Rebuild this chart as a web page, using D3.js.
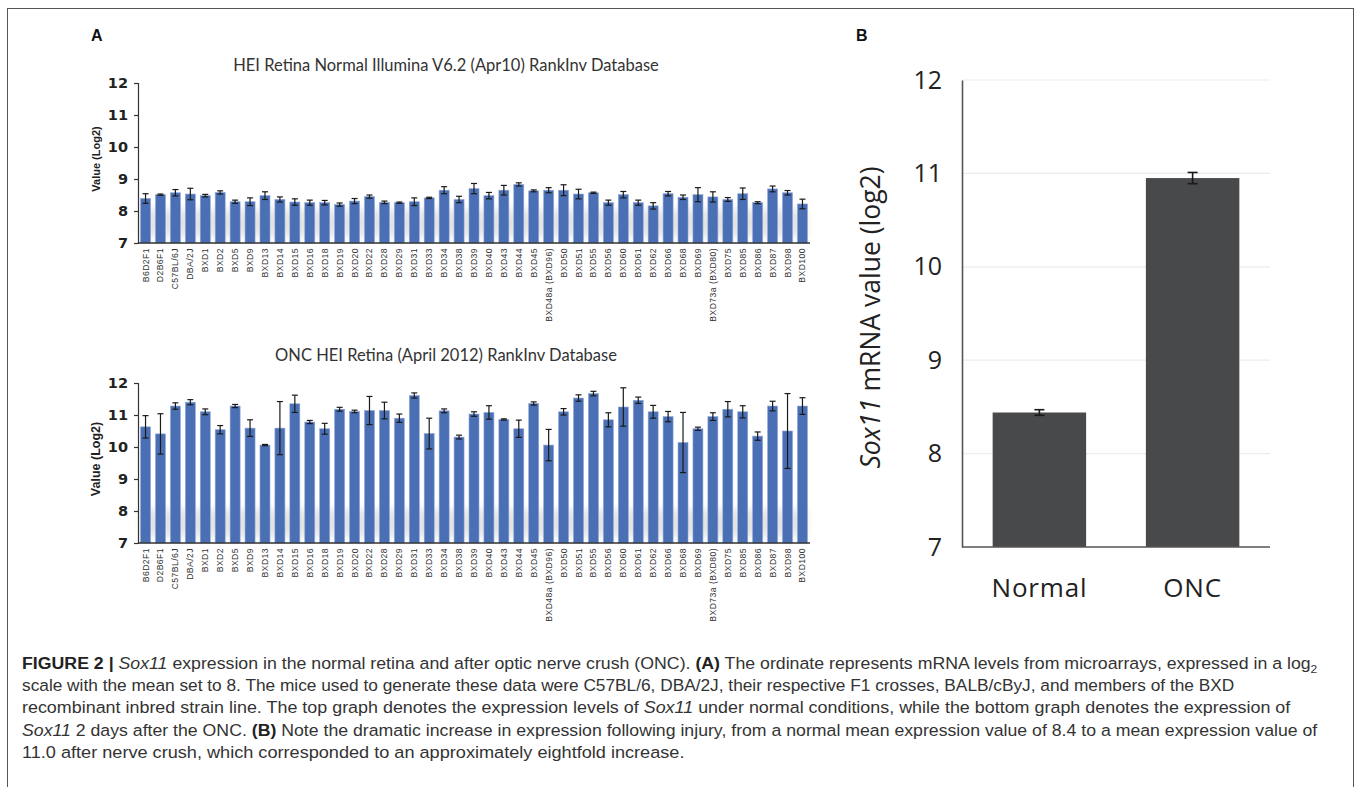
<!DOCTYPE html>
<html>
<head>
<meta charset="utf-8">
<script src="https://cdn.jsdelivr.net/npm/d3@7/dist/d3.min.js"></script>
<style>
  html, body { margin: 0; padding: 0; background: #fff; }
  svg { display: block; }
</style>
</head>
<body>
<svg id="fig" width="1358" height="787"></svg>
<script>
// ---- data ----
const strains = ["B6D2F1","D2B6F1","C57BL/6J","DBA/2J","BXD1","BXD2","BXD5","BXD9","BXD13","BXD14",
  "BXD15","BXD16","BXD18","BXD19","BXD20","BXD22","BXD28","BXD29","BXD31","BXD33",
  "BXD34","BXD38","BXD39","BXD40","BXD43","BXD44","BXD45","BXD48a (BXD96)","BXD50","BXD51",
  "BXD55","BXD56","BXD60","BXD61","BXD62","BXD66","BXD68","BXD69","BXD73a (BXD80)","BXD75",
  "BXD85","BXD86","BXD87","BXD98","BXD100"];

const normalMean = [8.39,8.51,8.57,8.53,8.48,8.58,8.29,8.29,8.48,8.36,
  8.28,8.26,8.26,8.20,8.31,8.45,8.27,8.26,8.29,8.41,
  8.65,8.36,8.70,8.48,8.65,8.83,8.63,8.65,8.65,8.53,
  8.57,8.26,8.51,8.26,8.16,8.54,8.43,8.51,8.44,8.36,
  8.54,8.26,8.69,8.57,8.22];
const normalErr = [0.15,0.02,0.10,0.18,0.04,0.05,0.05,0.12,0.12,0.08,
  0.10,0.08,0.07,0.05,0.08,0.05,0.04,0.02,0.12,0.02,
  0.11,0.10,0.16,0.10,0.15,0.05,0.03,0.08,0.17,0.15,
  0.02,0.08,0.10,0.08,0.10,0.07,0.07,0.22,0.16,0.06,
  0.18,0.03,0.09,0.07,0.15];

const oncMean = [10.63,10.41,11.28,11.40,11.10,10.54,11.28,10.59,10.06,10.59,
  11.35,10.78,10.57,11.18,11.11,11.14,11.14,10.90,11.61,10.42,
  11.13,10.31,11.03,11.08,10.86,10.57,11.36,10.06,11.10,11.53,
  11.67,10.85,11.25,11.46,11.10,10.95,10.14,10.57,10.95,11.18,
  11.10,10.34,11.28,10.50,11.28];
const oncErr = [0.35,0.63,0.10,0.08,0.09,0.13,0.05,0.26,0.02,0.83,
  0.27,0.05,0.17,0.06,0.04,0.44,0.26,0.13,0.08,0.48,
  0.06,0.06,0.07,0.21,0.02,0.27,0.05,0.49,0.10,0.10,
  0.07,0.22,0.60,0.10,0.20,0.16,0.94,0.05,0.12,0.24,
  0.19,0.13,0.15,1.17,0.26];

const yTicksA = [7, 8, 9, 10, 11, 12];

const groupsB = ["Normal", "ONC"];
const meanB = [8.44, 10.95];
const errB = [0.03, 0.06];
const yTicksB = [7, 8, 9, 10, 11, 12];

const titleTop = "HEI Retina Normal Illumina V6.2 (Apr10) RankInv Database";
const titleBottom = "ONC HEI Retina (April 2012) RankInv Database";

// ---- drawing ----
const svg = d3.select("#fig");

// outer frame of the figure
svg.append("rect")
  .attr("x", 7.5).attr("y", 8.5).attr("width", 1346).attr("height", 800)
  .attr("fill", "none").attr("stroke", "#555").attr("stroke-width", 1);

const defs = svg.append("defs");
defs.append("filter").attr("id", "haze").attr("x", "-10%").attr("y", "-50%")
  .attr("width", "120%").attr("height", "200%")
  .append("feGaussianBlur").attr("stdDeviation", 5);

// panel letters
svg.append("text").attr("x", 91).attr("y", 41).text("A")
  .attr("font-family", "Liberation Sans, Arial, sans-serif").attr("font-weight", "bold")
  .attr("font-size", 16).attr("fill", "#111");
svg.append("text").attr("x", 856).attr("y", 41).text("B")
  .attr("font-family", "Liberation Sans, Arial, sans-serif").attr("font-weight", "bold")
  .attr("font-size", 16).attr("fill", "#111");

function strainChart(opts) {
  const { top, bottom, left, right, means, errs, title, titleY, ytitleSize, labelY } = opts;
  const g = svg.append("g");
  const x = d3.scaleBand().domain(strains).range([left, right]).paddingInner(0.33).paddingOuter(0.17);
  const y = d3.scaleLinear().domain([7, 12]).range([bottom, top]);

  // soft grey shading near the base of the bars
  g.append("rect")
    .attr("x", left + 4).attr("width", right - left - 8)
    .attr("y", y(8.05)).attr("height", y(7.2) - y(8.05))
    .attr("fill", "#d2d2d2").attr("opacity", 0.6)
    .attr("filter", "url(#haze)");

  // bars
  g.selectAll("rect.bar").data(strains).enter().append("rect")
    .attr("class", "bar")
    .attr("x", d => x(d))
    .attr("width", x.bandwidth())
    .attr("y", (d, i) => y(means[i]))
    .attr("height", (d, i) => y(7) - y(means[i]))
    .attr("fill", "#4b6fb4")
    .attr("stroke", "#8fa8d8").attr("stroke-width", 0.6);

  // error bars
  const eb = g.selectAll("g.err").data(strains).enter().append("g").attr("class", "err");
  const cx = d => x(d) + x.bandwidth() / 2;
  eb.append("line")
    .attr("x1", cx).attr("x2", cx)
    .attr("y1", (d, i) => y(means[i] + errs[i]))
    .attr("y2", (d, i) => y(means[i] - errs[i]))
    .attr("stroke", "#1a1a1a").attr("stroke-width", 1.2);
  [1, -1].forEach(s => {
    eb.append("line")
      .attr("x1", d => cx(d) - 3).attr("x2", d => cx(d) + 3)
      .attr("y1", (d, i) => y(means[i] + s * errs[i]))
      .attr("y2", (d, i) => y(means[i] + s * errs[i]))
      .attr("stroke", "#1a1a1a").attr("stroke-width", 1.2);
  });

  // y axis
  const ya = g.append("g").attr("transform", `translate(${left},0)`)
    .call(d3.axisLeft(y).tickValues(yTicksA).tickSize(4).tickPadding(6).tickFormat(d3.format("d")));
  ya.select(".domain").attr("stroke", "#333").attr("stroke-width", 1.2);
  ya.selectAll(".tick line").attr("stroke", "#333").attr("stroke-width", 1.2);
  ya.selectAll(".tick text")
    .attr("font-family", "DejaVu Sans, sans-serif").attr("font-weight", "bold")
    .attr("font-size", 14.5).attr("fill", "#222");

  // x axis baseline
  g.append("line").attr("x1", left).attr("x2", right)
    .attr("y1", bottom).attr("y2", bottom)
    .attr("stroke", "#333").attr("stroke-width", 1.3);

  // strain labels
  g.selectAll("text.xl").data(strains).enter().append("text")
    .attr("class", "xl")
    .attr("transform", d => `translate(${cx(d) + 3},${labelY}) rotate(-90)`)
    .attr("text-anchor", "end")
    .attr("font-family", "Liberation Sans, Arial, sans-serif")
    .attr("font-size", 8.6).attr("letter-spacing", 0.45)
    .attr("fill", "#333")
    .text(d => d);

  // title
  g.append("text").attr("x", 446).attr("y", titleY).attr("text-anchor", "middle")
    .attr("font-family", "Lato, Open Sans, sans-serif").attr("font-size", 16.5)
    .attr("fill", "#333").text(title);

  // y title
  g.append("text")
    .attr("transform", `translate(100,${(top + bottom) / 2 - 4}) rotate(-90)`)
    .attr("text-anchor", "middle")
    .attr("font-family", "Liberation Sans, Arial, sans-serif").attr("font-weight", "bold")
    .attr("font-size", ytitleSize).attr("fill", "#222")
    .text("Value (Log2)");
}

strainChart({ top: 83, bottom: 243, left: 138, right: 810, means: normalMean, errs: normalErr,
  title: titleTop, titleY: 71, ytitleSize: 11, labelY: 248 });
strainChart({ top: 383, bottom: 543, left: 138, right: 810, means: oncMean, errs: oncErr,
  title: titleBottom, titleY: 361, ytitleSize: 12.5, labelY: 548 });

// ---- panel B ----
(function () {
  const left = 962, right = 1270, top = 80, bottom = 547;
  const g = svg.append("g");
  const x = d3.scaleBand().domain(groupsB).range([left, right]).paddingInner(0.39).paddingOuter(0.2);
  const y = d3.scaleLinear().domain([7, 12]).range([bottom, top]);

  g.selectAll("line.grid").data(yTicksB.filter(v => v > 7)).enter().append("line")
    .attr("x1", left).attr("x2", right)
    .attr("y1", d => y(d)).attr("y2", d => y(d))
    .attr("stroke", "#ececec").attr("stroke-width", 1.2);

  g.selectAll("rect.bar").data(groupsB).enter().append("rect")
    .attr("x", d => x(d)).attr("width", x.bandwidth())
    .attr("y", (d, i) => y(meanB[i]))
    .attr("height", (d, i) => y(7) - y(meanB[i]))
    .attr("fill", "#48494b");

  const cx = d => x(d) + x.bandwidth() / 2;
  g.selectAll("line.eb").data(groupsB).enter().append("line")
    .attr("x1", cx).attr("x2", cx)
    .attr("y1", (d, i) => y(meanB[i] + errB[i])).attr("y2", (d, i) => y(meanB[i] - errB[i]))
    .attr("stroke", "#1a1a1a").attr("stroke-width", 1.6);
  [1, -1].forEach(s => {
    g.selectAll(null).data(groupsB).enter().append("line")
      .attr("x1", d => cx(d) - 5).attr("x2", d => cx(d) + 5)
      .attr("y1", (d, i) => y(meanB[i] + s * errB[i])).attr("y2", (d, i) => y(meanB[i] + s * errB[i]))
      .attr("stroke", "#1a1a1a").attr("stroke-width", 1.6);
  });

  const ya = g.append("g").attr("transform", `translate(${left},0)`)
    .call(d3.axisLeft(y).tickValues(yTicksB).tickSize(0).tickPadding(20).tickFormat(d3.format("d")));
  ya.select(".domain").attr("stroke", "#555").attr("stroke-width", 1.6);
  ya.selectAll(".tick text")
    .attr("font-family", "Open Sans, sans-serif").attr("font-size", 25).attr("fill", "#222");

  g.append("line").attr("x1", left).attr("x2", right).attr("y1", bottom).attr("y2", bottom)
    .attr("stroke", "#555").attr("stroke-width", 1.6);

  g.selectAll("text.cat").data(groupsB).enter().append("text")
    .attr("x", cx).attr("y", 597).attr("text-anchor", "middle")
    .attr("font-family", "Open Sans, sans-serif").attr("font-size", 26)
    .attr("letter-spacing", 0.8).attr("fill", "#222")
    .text(d => d);

  const yt = g.append("text")
    .attr("transform", `translate(880,${(top + bottom) / 2 + 4}) rotate(-90)`)
    .attr("text-anchor", "middle")
    .attr("font-family", "Open Sans, sans-serif").attr("font-size", 26.5).attr("fill", "#222");
  yt.append("tspan").attr("font-style", "italic").text("Sox11");
  yt.append("tspan").text(" mRNA value (log2)");
})();

// ---- caption ----
const capLines = [
  [["b", "FIGURE 2 | "], ["i", "Sox11"], ["n", " expression in the normal retina and after optic nerve crush (ONC). "], ["b", "(A)"], ["n", " The ordinate represents mRNA levels from microarrays, expressed in a log"], ["sub", "2"]],
  [["n", "scale with the mean set to 8. The mice used to generate these data were C57BL/6, DBA/2J, their respective F1 crosses, BALB/cByJ, and members of the BXD"]],
  [["n", "recombinant inbred strain line. The top graph denotes the expression levels of "], ["i", "Sox11"], ["n", " under normal conditions, while the bottom graph denotes the expression of"]],
  [["i", "Sox11"], ["n", " 2 days after the ONC. "], ["b", "(B)"], ["n", " Note the dramatic increase in expression following injury, from a normal mean expression value of 8.4 to a mean expression value of"]],
  [["n", "11.0 after nerve crush, which corresponded to an approximately eightfold increase."]]
];
const capRight = [1318, 1236, 1291, 1318, 685];
const capX = 22, capY0 = 669, capStep = 22.2;

capLines.forEach((parts, li) => {
  const t = svg.append("text")
    .attr("x", 0).attr("y", 0)
    .attr("font-family", "Liberation Sans Narrow, Arial Narrow, Liberation Sans, sans-serif")
    .attr("font-size", 17).attr("fill", "#333");
  parts.forEach(([k, s]) => {
    const sp = t.append("tspan").text(s);
    if (k === "b") sp.attr("font-weight", "bold").attr("fill", "#222");
    if (k === "i") sp.attr("font-style", "italic");
    if (k === "sub") sp.attr("font-size", 11.5).attr("dy", 4);
  });
  const w = t.node().getComputedTextLength();
  const sx = (capRight[li] - capX) / w;
  t.attr("transform", `translate(${capX},${capY0 + li * capStep}) scale(${sx},1)`);
});
</script>
</body>
</html>
